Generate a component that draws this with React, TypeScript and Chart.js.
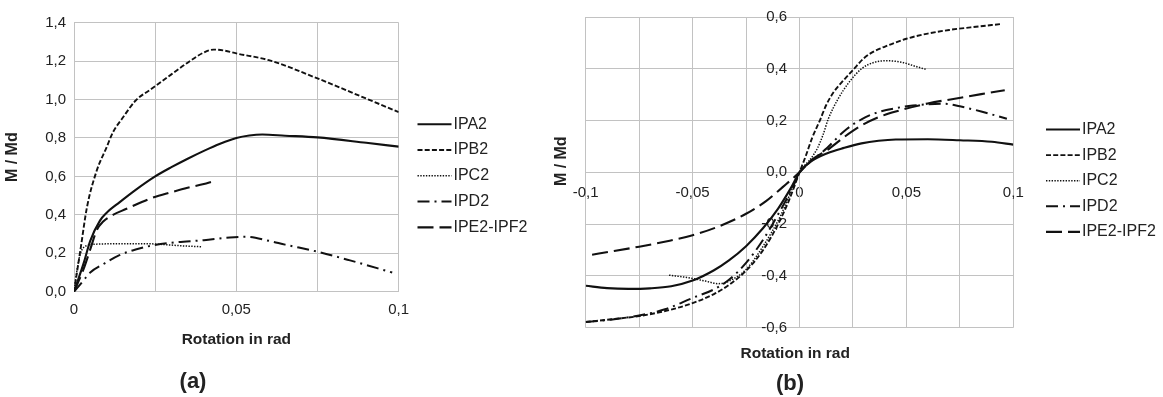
import React, { useEffect, useRef } from "react";
import { Chart, registerables } from "chart.js";

Chart.register(...registerables);

const FONT = "'Liberation Sans', Arial, Helvetica, sans-serif";
const TEXT = "#222222";
const GRID = "#c2c2c2";
const LINE = "#111111";

const seriesLabels = ["IPA2", "IPB2", "IPC2", "IPD2", "IPE2-IPF2"];

// ---- Chart (a) ----
const aIPA2x = [0, 0.003, 0.005, 0.008, 0.01, 0.014, 0.019, 0.025, 0.03, 0.035, 0.04, 0.045, 0.05, 0.054, 0.058, 0.065, 0.075, 0.09, 0.1];
const aIPA2y = [0, 0.15, 0.265, 0.37, 0.41, 0.465, 0.53, 0.6, 0.648, 0.692, 0.733, 0.77, 0.8, 0.813, 0.818, 0.812, 0.803, 0.775, 0.755];
const aIPB2x = [0, 0.002, 0.004, 0.007, 0.01, 0.012, 0.015, 0.019, 0.024, 0.03, 0.035, 0.04, 0.043, 0.046, 0.05, 0.06, 0.075, 0.09, 0.1];
const aIPB2y = [0, 0.22, 0.44, 0.63, 0.75, 0.83, 0.905, 0.995, 1.057, 1.131, 1.192, 1.245, 1.26, 1.256, 1.24, 1.205, 1.11, 1.005, 0.935];
const aIPC2x = [0, 0.001, 0.002, 0.004, 0.008, 0.015, 0.022, 0.028, 0.034, 0.0395];
const aIPC2y = [0, 0.12, 0.2, 0.24, 0.248, 0.25, 0.25, 0.245, 0.238, 0.234];
const aIPD2x = [0, 0.003, 0.005, 0.009, 0.014, 0.019, 0.024, 0.03, 0.04, 0.048, 0.053, 0.06, 0.065, 0.075, 0.085, 0.098];
const aIPD2y = [0, 0.06, 0.1, 0.143, 0.19, 0.22, 0.24, 0.255, 0.268, 0.282, 0.286, 0.265, 0.245, 0.208, 0.163, 0.1];
const aIPE2x = [0, 0.003, 0.005, 0.007, 0.009, 0.012, 0.016, 0.02, 0.024, 0.03, 0.035, 0.04, 0.0425];
const aIPE2y = [0, 0.12, 0.22, 0.32, 0.365, 0.4, 0.43, 0.46, 0.488, 0.518, 0.541, 0.56, 0.572];

// ---- Chart (b) ----
const bIPA2x = [-0.1, -0.09, -0.08, -0.07, -0.06, -0.05, -0.04, -0.033, -0.025, -0.017, -0.01, -0.004, 0, 0.005, 0.013, 0.021, 0.029, 0.037, 0.045, 0.06, 0.075, 0.09, 0.1];
const bIPA2y = [-0.438, -0.447, -0.45, -0.448, -0.44, -0.418, -0.378, -0.34, -0.285, -0.215, -0.14, -0.06, 0, 0.04, 0.074, 0.095, 0.112, 0.122, 0.127, 0.128, 0.124, 0.118, 0.107];
const bIPB2x = [-0.1, -0.0875, -0.075, -0.0625, -0.05, -0.04, -0.033, -0.025, -0.017, -0.01, -0.005, 0, 0.003, 0.006, 0.0095, 0.0125, 0.016, 0.02, 0.025, 0.03, 0.035, 0.04, 0.045, 0.05, 0.06, 0.07, 0.08, 0.0945];
const bIPB2y = [-0.578, -0.567, -0.555, -0.535, -0.505, -0.47, -0.435, -0.38, -0.3, -0.2, -0.11, 0, 0.065, 0.135, 0.2, 0.26, 0.31, 0.35, 0.395, 0.44, 0.468, 0.486, 0.502, 0.516, 0.536, 0.55, 0.56, 0.573];
const bIPC2x = [-0.061, -0.052, -0.044, -0.038, -0.033, -0.025, -0.017, -0.009, -0.0045, 0, 0.0055, 0.0085, 0.011, 0.0135, 0.018, 0.023, 0.029, 0.035, 0.041, 0.048, 0.054, 0.0595];
const bIPC2y = [-0.397, -0.407, -0.42, -0.43, -0.42, -0.375, -0.285, -0.17, -0.085, 0, 0.055, 0.095, 0.145, 0.207, 0.283, 0.346, 0.4, 0.425, 0.431, 0.425, 0.41, 0.397];
const bIPD2x = [-0.1, -0.0875, -0.075, -0.0625, -0.05, -0.04, -0.033, -0.025, -0.017, -0.0095, -0.003, 0, 0.005, 0.013, 0.021, 0.029, 0.037, 0.045, 0.053, 0.06, 0.068, 0.075, 0.085, 0.097];
const bIPD2y = [-0.578, -0.568, -0.553, -0.528, -0.485, -0.452, -0.415, -0.35, -0.26, -0.155, -0.055, 0, 0.04, 0.095, 0.16, 0.205, 0.233, 0.248, 0.258, 0.263, 0.265, 0.255, 0.235, 0.207];
const bIPE2x = [-0.097, -0.0875, -0.075, -0.0625, -0.05, -0.0375, -0.025, -0.0155, -0.008, 0, 0.006, 0.013, 0.021, 0.029, 0.037, 0.045, 0.06, 0.076, 0.085, 0.096];
const bIPE2y = [-0.318, -0.305, -0.287, -0.267, -0.243, -0.208, -0.16, -0.11, -0.058, 0, 0.05, 0.086, 0.137, 0.181, 0.213, 0.235, 0.266, 0.289, 0.302, 0.317];

const lineStyles = [
  { borderDash: [] as number[], borderWidth: 2.1 },
  { borderDash: [5, 2.2], borderWidth: 1.9 },
  { borderDash: [1.4, 1.4], borderWidth: 1.5 },
  { borderDash: [12, 5, 2, 5], borderWidth: 2 },
  { borderDash: [16, 6], borderWidth: 2.1 },
];

const pts = (xs: number[], ys: number[]) => xs.map((x, i) => ({ x, y: ys[i] }));

const buildDatasets = (series: [number[], number[]][], xId: string, yId: string) =>
  series.map(([xs, ys], i) => ({
    label: seriesLabels[i],
    data: pts(xs, ys),
    borderColor: LINE,
    backgroundColor: LINE,
    borderWidth: lineStyles[i].borderWidth,
    borderDash: lineStyles[i].borderDash,
    pointRadius: 0,
    fill: false,
    cubicInterpolationMode: "monotone" as const,
    xAxisID: xId,
    yAxisID: yId,
  }));

const fmtX = (v: number) => {
  const m = Math.round(v * 1000);
  if (Math.abs(m % 50) !== 0) return "";
  return String(m / 1000).replace(".", ",");
};
const fmtY = (v: number) => (Math.round(v * 10) / 10).toFixed(1).replace(".", ",");

const lineLegend = {
  id: "lineLegend",
  afterDraw(chart: any, _args: any, opts: any) {
    const { ctx } = chart;
    ctx.save();
    chart.data.datasets.forEach((ds: any, i: number) => {
      const y = opts.y + i * opts.spacing;
      ctx.beginPath();
      ctx.setLineDash(ds.borderDash || []);
      ctx.lineWidth = ds.borderWidth;
      ctx.strokeStyle = ds.borderColor;
      ctx.moveTo(opts.x, y);
      ctx.lineTo(opts.x + opts.length, y);
      ctx.stroke();
      ctx.setLineDash([]);
      ctx.fillStyle = TEXT;
      ctx.font = `16px ${FONT}`;
      ctx.textBaseline = "middle";
      ctx.textAlign = "left";
      ctx.fillText(ds.label, opts.x + opts.length + opts.gap, y);
    });
    ctx.restore();
  },
};

const tickFont = { family: FONT, size: 15 };

function ChartA() {
  const ref = useRef<HTMLCanvasElement>(null);
  useEffect(() => {
    const chart = new Chart(ref.current as HTMLCanvasElement, {
      type: "line",
      data: {
        datasets: buildDatasets(
          [[aIPA2x, aIPA2y], [aIPB2x, aIPB2y], [aIPC2x, aIPC2y], [aIPD2x, aIPD2y], [aIPE2x, aIPE2y]],
          "x",
          "y"
        ) as any,
      },
      plugins: [lineLegend],
      options: {
        responsive: false,
        animation: false,
        layout: { padding: { left: 0, top: 22.7, right: 540 - 398.7, bottom: 0 } },
        plugins: {
          legend: { display: false },
          tooltip: { enabled: false },
          lineLegend: { x: 417.5, y: 124.2, spacing: 25.8, length: 34, gap: 2 },
        } as any,
        scales: {
          x: {
            type: "linear",
            min: 0,
            max: 0.1,
            afterFit: (s: any) => { s.height = 105.3; },
            ticks: { stepSize: 0.025, autoSkip: false, maxRotation: 0, padding: 9, color: TEXT, font: tickFont, callback: (v: any) => fmtX(Number(v)) },
            grid: { color: GRID, drawTicks: false, lineWidth: 1 },
            border: { color: GRID },
            title: { display: true, text: "Rotation in rad", color: TEXT, font: { family: FONT, size: 15.5, weight: "bold" }, padding: { top: 0, bottom: 48 } },
          },
          y: {
            type: "linear",
            min: 0,
            max: 1.4,
            afterFit: (s: any) => { s.width = 74; },
            ticks: { stepSize: 0.2, autoSkip: false, padding: 8, color: TEXT, font: tickFont, callback: (v: any) => fmtY(Number(v)) },
            grid: { color: GRID, drawTicks: false, lineWidth: 1 },
            border: { color: GRID },
            title: { display: true, text: "M / Md", color: TEXT, font: { family: FONT, size: 16, weight: "bold" }, padding: { top: 3.4, bottom: 0 } },
          },
        },
      } as any,
    });
    return () => chart.destroy();
  }, []);
  return <canvas ref={ref} width={540} height={397} style={{ position: "absolute", left: 0, top: 0, width: 540, height: 397 }} />;
}

function ChartB() {
  const ref = useRef<HTMLCanvasElement>(null);
  useEffect(() => {
    const chart = new Chart(ref.current as HTMLCanvasElement, {
      type: "line",
      data: {
        datasets: buildDatasets(
          [[bIPA2x, bIPA2y], [bIPB2x, bIPB2y], [bIPC2x, bIPC2y], [bIPD2x, bIPD2y], [bIPE2x, bIPE2y]],
          "x",
          "y"
        ) as any,
      },
      plugins: [lineLegend],
      options: {
        responsive: false,
        animation: false,
        layout: { padding: { left: 0, top: 11.7, right: 623 - 473.3, bottom: 0 } },
        plugins: {
          legend: { display: false },
          tooltip: { enabled: false },
          lineLegend: { x: 506, y: 129.5, spacing: 25.6, length: 34, gap: 2 },
        } as any,
        scales: {
          x: {
            type: "linear",
            position: { y: 0 },
            min: -0.1,
            max: 0.1,
            afterFit: (s: any) => { s.height = 0; },
            ticks: { stepSize: 0.025, autoSkip: false, maxRotation: 0, padding: 12, color: TEXT, font: tickFont, callback: (v: any) => fmtX(Number(v)) },
            grid: { color: GRID, drawTicks: false, lineWidth: 1 },
            border: { color: GRID },
          },
          y: {
            type: "linear",
            position: { x: 0 },
            min: -0.6,
            max: 0.6,
            afterFit: (s: any) => { s.width = 0; },
            ticks: { stepSize: 0.2, autoSkip: false, padding: 8, color: TEXT, font: tickFont, callback: (v: any) => fmtY(Number(v)) + "   " },
            grid: { color: GRID, drawTicks: false, lineWidth: 1 },
            border: { color: GRID },
          },
          yt: {
            type: "linear",
            position: "left",
            min: 0,
            max: 1,
            afterFit: (s: any) => { s.width = 45.7; },
            ticks: { display: false },
            grid: { display: false },
            border: { display: false },
            title: { display: true, text: "     M / Md", color: TEXT, font: { family: FONT, size: 16, weight: "bold" }, padding: { top: 12.1, bottom: 0 } },
          },
          xt: {
            type: "linear",
            position: "bottom",
            min: 0,
            max: 1,
            afterFit: (s: any) => { s.height = 69.3; },
            ticks: { display: false },
            grid: { display: false },
            border: { display: false },
            title: { display: true, text: "Rotation in rad  ", color: TEXT, font: { family: FONT, size: 15.5, weight: "bold" }, padding: { top: 0, bottom: 33.7 } },
          },
        },
      } as any,
    });
    return () => chart.destroy();
  }, []);
  return <canvas ref={ref} width={623} height={397} style={{ position: "absolute", left: 540, top: 0, width: 623, height: 397 }} />;
}

const captionStyle = (x: number, y: number): React.CSSProperties => ({
  position: "absolute",
  left: x,
  top: y,
  transform: "translate(-50%, -50%)",
  font: `bold 22px ${FONT}`,
  color: TEXT,
  lineHeight: 1,
  whiteSpace: "nowrap",
});

export default function App() {
  return (
    <div style={{ position: "absolute", left: 0, top: 0, width: 1163, height: 397, background: "#fff", overflow: "hidden" }}>
      <ChartA />
      <ChartB />
      <div style={captionStyle(193, 381)}>(a)</div>
      <div style={captionStyle(790, 383)}>(b)</div>
    </div>
  );
}
